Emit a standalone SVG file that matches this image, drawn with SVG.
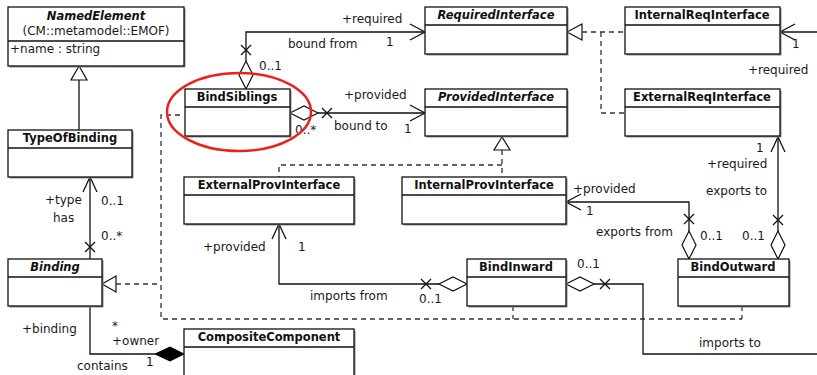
<svg xmlns="http://www.w3.org/2000/svg" width="817" height="375" viewBox="0 0 817 375">
  <style>
    .box { fill: #ffffff; stroke: #111; stroke-width: 1.3; }
    .shadow { fill: #8a8a8a; }
    .div { stroke: #111; stroke-width: 1.3; }
    .t { font-family: "DejaVu Sans", Verdana, sans-serif; font-size: 12px; fill: #1a1a1a; }
    .h { font-family: "DejaVu Sans", Verdana, sans-serif; font-size: 11.5px; font-weight: bold; fill: #111; text-anchor: middle; }
    .hi { font-style: italic; }
    .ln { fill: none; stroke: #111; stroke-width: 1.3; }
    .dash { fill: none; stroke: #333; stroke-width: 1.3; stroke-dasharray: 5 4; }
    .hollow { fill: #fff; stroke: #111; stroke-width: 1.2; }
    .solid { fill: #000; stroke: #000; stroke-width: 1; }
  </style>

  <rect width="817" height="375" fill="#fff"/>

  <!-- connectors -->
  <g id="connectors">
    <!-- NamedElement <|- TypeOfBinding -->
    <line class="ln" x1="79" y1="80" x2="79" y2="130"/>
    <polygon class="hollow" points="79,66 71,80 87,80"/>

    <!-- Binding -> TypeOfBinding (has) -->
    <line class="ln" x1="90" y1="177" x2="90" y2="259"/>
    <polyline class="ln" points="83,192 90,177 97,192"/>
    <path class="ln" d="M85,242 L95,252 M85,252 L95,242"/>

    <!-- realizations of Binding -->
    <polygon class="hollow" points="102,284 116,276 116,292"/>
    <polyline class="dash" points="116,284 161,284"/>
    <polyline class="dash" points="180,115 161,115 161,319 742,319"/>
    <line class="dash" x1="513" y1="306" x2="513" y2="319"/>
    <line class="dash" x1="742" y1="306" x2="742" y2="319"/>

    <!-- BindSiblings -> RequiredInterface (bound from) -->
    <polygon class="hollow" points="246,89 239,75 246,61 253,75"/>
    <polyline class="ln" points="246,61 246,32 425,32"/>
    <path class="ln" d="M241,45 L251,55 M241,55 L251,45"/>
    <polyline class="ln" points="410,24 425,32 410,40"/>

    <!-- BindSiblings -> ProvidedInterface (bound to) -->
    <polygon class="hollow" points="290,113 304,106 318,113 304,120"/>
    <line class="ln" x1="318" y1="113" x2="425" y2="113"/>
    <path class="ln" d="M322,108 L332,118 M322,118 L332,108"/>
    <polyline class="ln" points="410,105 425,113 410,121"/>

    <!-- ProvidedInterface realizations -->
    <polygon class="hollow" points="502,137 494,150 510,150"/>
    <line class="dash" x1="502" y1="150" x2="502" y2="177"/>
    <polyline class="dash" points="502,165 279,165 279,177"/>

    <!-- RequiredInterface realizations -->
    <polygon class="hollow" points="567,32 582,24 582,40"/>
    <line class="dash" x1="582" y1="32" x2="625" y2="32"/>
    <polyline class="dash" points="601,32 601,113 625,113"/>

    <!-- incoming to InternalReqInterface -->
    <line class="ln" x1="817" y1="32" x2="780" y2="32"/>
    <polyline class="ln" points="795,24 780,32 795,40"/>

    <!-- BindOutward -> ExternalReqInterface (exports to) -->
    <polygon class="hollow" points="778,259 771,245 778,231 785,245"/>
    <line class="ln" x1="778" y1="231" x2="778" y2="137"/>
    <polyline class="ln" points="771,152 778,137 785,152"/>
    <path class="ln" d="M773,215 L783,225 M773,225 L783,215"/>

    <!-- BindOutward -> InternalProvInterface (exports from) -->
    <polygon class="hollow" points="689,259 682,245 689,231 696,245"/>
    <polyline class="ln" points="689,231 689,202 566,202"/>
    <polyline class="ln" points="581,194 566,202 581,210"/>
    <path class="ln" d="M684,214 L694,224 M684,224 L694,214"/>

    <!-- BindInward -> ExternalProvInterface (imports from) -->
    <polygon class="hollow" points="467,284 453,277 439,284 453,291"/>
    <polyline class="ln" points="439,284 279,284 279,224"/>
    <polyline class="ln" points="272,239 279,224 286,239"/>
    <path class="ln" d="M421,279 L431,289 M421,289 L431,279"/>

    <!-- BindInward (imports to) -->
    <polygon class="hollow" points="566,284 580,277 594,284 580,291"/>
    <polyline class="ln" points="594,284 643,284 643,354 817,354"/>
    <path class="ln" d="M600,279 L610,289 M600,289 L610,279"/>

    <!-- CompositeComponent contains Binding -->
    <polyline class="ln" points="90,306 90,354 155,354"/>
    <polygon class="solid" points="184,354 170,347 155,354 170,361"/>
  </g>

  <!-- classes -->
  <g id="NamedElement">
    <rect class="shadow" x="9.5" y="8.5" width="176" height="59"/>
    <rect class="box" x="8" y="7" width="176" height="59"/>
    <line class="div" x1="8" y1="41" x2="184" y2="41"/>
    <text class="h hi" x="96" y="20">NamedElement</text>
    <text class="t" x="96" y="35" text-anchor="middle">(CM::metamodel::EMOF)</text>
    <text class="t" x="10" y="53">+name : string</text>
  </g>

  <g id="TypeOfBinding">
    <rect class="shadow" x="9.5" y="131.5" width="124" height="47"/>
    <rect class="box" x="8" y="130" width="124" height="47"/>
    <line class="div" x1="8" y1="148" x2="132" y2="148"/>
    <text class="h" x="70" y="142">TypeOfBinding</text>
  </g>

  <g id="Binding">
    <rect class="shadow" x="9.5" y="260.5" width="94" height="47"/>
    <rect class="box" x="8" y="259" width="94" height="47"/>
    <line class="div" x1="8" y1="277" x2="102" y2="277"/>
    <text class="h hi" x="55" y="271">Binding</text>
  </g>

  <g id="BindSiblings">
    <rect class="shadow" x="186.5" y="90.5" width="105" height="47"/>
    <rect class="box" x="185" y="89" width="105" height="47"/>
    <line class="div" x1="185" y1="107" x2="290" y2="107"/>
    <text class="h" x="237" y="101">BindSiblings</text>
  </g>

  <g id="RequiredInterface">
    <rect class="shadow" x="426.5" y="8.5" width="142" height="47"/>
    <rect class="box" x="425" y="7" width="142" height="47"/>
    <line class="div" x1="425" y1="25" x2="567" y2="25"/>
    <text class="h hi" x="496" y="19">RequiredInterface</text>
  </g>

  <g id="ProvidedInterface">
    <rect class="shadow" x="426.5" y="90.5" width="142" height="47"/>
    <rect class="box" x="425" y="89" width="142" height="47"/>
    <line class="div" x1="425" y1="107" x2="567" y2="107"/>
    <text class="h hi" x="496" y="101">ProvidedInterface</text>
  </g>

  <g id="InternalReqInterface">
    <rect class="shadow" x="626.5" y="8.5" width="155" height="47"/>
    <rect class="box" x="625" y="7" width="155" height="47"/>
    <line class="div" x1="625" y1="25" x2="780" y2="25"/>
    <text class="h" x="702" y="19">InternalReqInterface</text>
  </g>

  <g id="ExternalReqInterface">
    <rect class="shadow" x="626.5" y="90.5" width="155" height="47"/>
    <rect class="box" x="625" y="89" width="155" height="47"/>
    <line class="div" x1="625" y1="107" x2="780" y2="107"/>
    <text class="h" x="702" y="101">ExternalReqInterface</text>
  </g>

  <g id="ExternalProvInterface">
    <rect class="shadow" x="185.5" y="178.5" width="170" height="47"/>
    <rect class="box" x="184" y="177" width="170" height="47"/>
    <line class="div" x1="184" y1="195" x2="354" y2="195"/>
    <text class="h" x="269" y="189">ExternalProvInterface</text>
  </g>

  <g id="InternalProvInterface">
    <rect class="shadow" x="403.5" y="178.5" width="164" height="47"/>
    <rect class="box" x="402" y="177" width="164" height="47"/>
    <line class="div" x1="402" y1="195" x2="566" y2="195"/>
    <text class="h" x="484" y="189">InternalProvInterface</text>
  </g>

  <g id="BindInward">
    <rect class="shadow" x="468.5" y="260.5" width="99" height="47"/>
    <rect class="box" x="467" y="259" width="99" height="47"/>
    <line class="div" x1="467" y1="277" x2="566" y2="277"/>
    <text class="h" x="516" y="271">BindInward</text>
  </g>

  <g id="BindOutward">
    <rect class="shadow" x="679.5" y="260.5" width="111" height="47"/>
    <rect class="box" x="678" y="259" width="111" height="47"/>
    <line class="div" x1="678" y1="277" x2="789" y2="277"/>
    <text class="h" x="733" y="271">BindOutward</text>
  </g>

  <g id="CompositeComponent">
    <rect class="shadow" x="185.5" y="330.5" width="170" height="50"/>
    <rect class="box" x="184" y="329" width="170" height="50"/>
    <line class="div" x1="184" y1="347" x2="354" y2="347"/>
    <text class="h" x="269" y="341">CompositeComponent</text>
  </g>

  <!-- role names, multiplicities and association names -->
  <g id="labels">
    <text class="t" x="342" y="23">+required</text>
    <text class="t" x="288" y="48">bound from</text>
    <text class="t" x="386" y="46">1</text>
    <text class="t" x="259" y="70">0..1</text>
    <text class="t" x="344" y="99">+provided</text>
    <text class="t" x="334" y="130">bound to</text>
    <text class="t" x="404" y="133">1</text>
    <text class="t" x="295" y="134">0..*</text>

    <text class="t" x="45" y="204">+type</text>
    <text class="t" x="53" y="222">has</text>
    <text class="t" x="101" y="205">0..1</text>
    <text class="t" x="101" y="240">0..*</text>

    <text class="t" x="22" y="333">+binding</text>
    <text class="t" x="112" y="330" font-size="10">*</text>
    <text class="t" x="112" y="345">+owner</text>
    <text class="t" x="77" y="370">contains</text>
    <text class="t" x="146" y="366">1</text>

    <text class="t" x="203" y="251">+provided</text>
    <text class="t" x="298" y="251">1</text>
    <text class="t" x="310" y="300">imports from</text>
    <text class="t" x="419" y="303">0..1</text>
    <text class="t" x="577" y="268">0..1</text>
    <text class="t" x="699" y="347">imports to</text>

    <text class="t" x="573" y="193">+provided</text>
    <text class="t" x="586" y="215">1</text>
    <text class="t" x="596" y="236">exports from</text>
    <text class="t" x="700" y="240">0..1</text>
    <text class="t" x="742" y="240">0..1</text>

    <text class="t" x="756" y="152">1</text>
    <text class="t" x="707" y="168">+required</text>
    <text class="t" x="706" y="195">exports to</text>

    <text class="t" x="792" y="48">1</text>
    <text class="t" x="748" y="74">+required</text>
  </g>

  <!-- highlight -->
  <ellipse id="highlight" cx="239" cy="112" rx="72" ry="39" fill="none" stroke="#e8231e" stroke-width="2.5"/>
</svg>
